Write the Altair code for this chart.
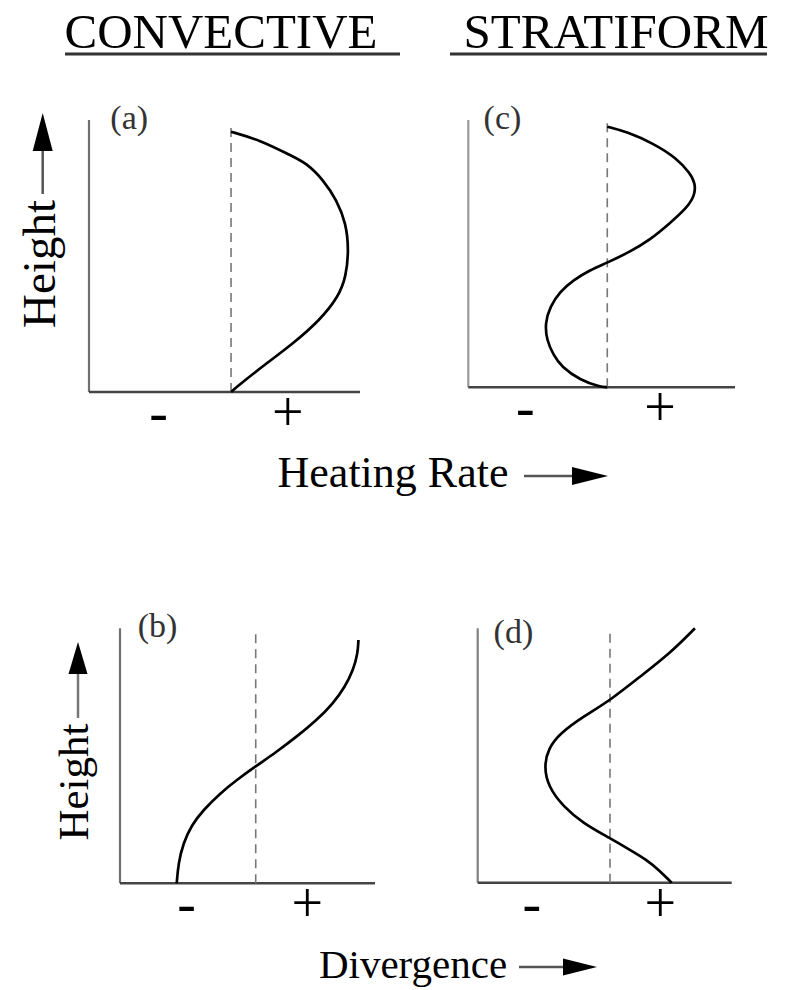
import altair as alt
import pandas as pd

SERIF = "Liberation Serif"

# ---------------- text content ----------------
column_titles = ["CONVECTIVE", "STRATIFORM"]
panel_labels = ["(a)", "(c)", "(b)", "(d)"]
x_titles = ["Heating Rate", "Divergence"]
y_title = "Height"
sign_labels = ["-", "+"]

# ---------------- curve values (x: rate, h: normalised height) ----------------
a_x = [0.0, 0.204, 0.415, 0.533, 0.650, 0.744, 0.810, 0.829, 0.810, 0.756, 0.627, 0.439, 0.251, 0.040, 0.0]
a_h = [0.957, 0.926, 0.871, 0.841, 0.779, 0.706, 0.620, 0.522, 0.424, 0.350, 0.265, 0.179, 0.106, 0.019, 0.0]

c_x = [0.0, 0.14, 0.33, 0.50, 0.595, 0.632, 0.632, 0.571, 0.451, 0.307, 0.163, 0.0, -0.124, -0.245,
       -0.340, -0.412, -0.448, -0.436, -0.388, -0.330, -0.196, -0.053, 0.0]
c_h = [0.975, 0.956, 0.913, 0.857, 0.801, 0.765, 0.720, 0.670, 0.614, 0.551, 0.507, 0.466, 0.439, 0.401,
       0.358, 0.302, 0.239, 0.177, 0.121, 0.077, 0.027, 0.002, 0.0]

b_x = [-0.582, -0.570, -0.534, -0.472, -0.386, -0.263, -0.140, -0.005, 0.155, 0.302, 0.450, 0.572,
       0.658, 0.719, 0.752, 0.757]
b_h = [0.0, 0.078, 0.157, 0.229, 0.287, 0.353, 0.405, 0.457, 0.516, 0.575, 0.640, 0.706,
       0.771, 0.836, 0.902, 0.954]

d_x = [0.642, 0.454, 0.227, 0.0, -0.202, -0.378, -0.466, -0.499, -0.466, -0.353, -0.202, 0.0,
       0.151, 0.277, 0.370, 0.466]
d_h = [1.0, 0.902, 0.810, 0.716, 0.653, 0.587, 0.528, 0.456, 0.377, 0.299, 0.233, 0.175,
       0.129, 0.090, 0.050, 0.0]

# sign label positions along each panel's rate axis
a_signs = [-0.51, 0.40]
c_signs = [-0.59, 0.38]
b_signs = [-0.51, 0.38]
d_signs = [-0.59, 0.38]


def panel(cx, ch, label, xmax, xr, yr, dash_top, signs, lab_x, lab_h, left_color):
    xs = alt.Scale(domain=[-1, xmax], range=xr, nice=False, zero=False)
    ys = alt.Scale(domain=[0, 1], range=yr, nice=False, zero=False)

    def X(f):
        return alt.X(f, type="quantitative", scale=xs, axis=None)

    def Y(f):
        return alt.Y(f, type="quantitative", scale=ys, axis=None)

    curve_df = pd.DataFrame({"x": cx, "h": ch, "i": list(range(len(cx)))})
    frame_df = pd.DataFrame({"x1": [-1], "x2": [xmax], "h1": [0], "h2": [1], "z": [0], "dt": [dash_top]})
    signs_df = pd.DataFrame({"s": sign_labels, "x": signs, "h": [0, 0]})
    lab_df = pd.DataFrame({"t": [label], "x": [lab_x], "h": [lab_h]})

    left = alt.Chart(frame_df).mark_rule(color=left_color, strokeWidth=2.2).encode(
        x=X("x1"), y=Y("h1"), y2="h2:Q")
    bottom = alt.Chart(frame_df).mark_rule(color="#444444", strokeWidth=2.6).encode(
        x=X("x1"), x2="x2:Q", y=Y("h1"))
    dash = alt.Chart(frame_df).mark_rule(color="#777777", strokeWidth=1.6, strokeDash=[9, 6]).encode(
        x=X("z"), y=Y("h1"), y2="dt:Q")
    curve = alt.Chart(curve_df).mark_line(color="black", strokeWidth=2.7, interpolate="basis").encode(
        x=X("x"), y=Y("h"), order="i:Q")
    sign_marks = alt.Chart(signs_df).mark_text(font=SERIF, fontSize=56, dy=39, baseline="alphabetic",
                                               align="center", color="black").encode(
        x=X("x"), y=Y("h"), text="s:N")
    lab = alt.Chart(lab_df).mark_text(font=SERIF, fontSize=34, align="left", baseline="alphabetic",
                                      color="#333333").encode(
        x=X("x"), y=Y("h"), text="t:N")
    return alt.layer(left, bottom, dash, curve, sign_marks, lab)


pa = panel(a_x, a_h, panel_labels[0], 0.908, [89, 360], [392, 120], 0.989, a_signs, -0.85, 0.968, "#707070")
pc = panel(c_x, c_h, panel_labels[1], 0.919, [468.3, 735], [387.3, 120], 0.994, c_signs, -0.89, 0.967, "#9a9a9a")
pb = panel(b_x, b_h, panel_labels[2], 0.879, [120, 375], [883.3, 628.3], 0.980, b_signs, -0.87, 0.967, "#707070")
pdd = panel(d_x, d_h, panel_labels[3], 0.920, [477.7, 731.7], [882.7, 628.3], 0.993, d_signs, -0.88, 0.943, "#808080")


def note(text, x, y, size, angle=0):
    return alt.Chart(pd.DataFrame({"t": [text]})).mark_text(
        font=SERIF, fontSize=size, angle=angle, align="center", baseline="alphabetic", color="black"
    ).encode(x=alt.value(x), y=alt.value(y), text="t:N")


def hline(x1, x2, y, w, color):
    return alt.Chart(pd.DataFrame({"k": [0]})).mark_rule(color=color, strokeWidth=w).encode(
        x=alt.value(x1), x2=alt.value(x2), y=alt.value(y))


def vline(x, y1, y2, w, color):
    return alt.Chart(pd.DataFrame({"k": [0]})).mark_rule(color=color, strokeWidth=w).encode(
        x=alt.value(x), y=alt.value(y1), y2=alt.value(y2))


def head(x, y, length, width, direction):
    w = width / length
    if direction == "right":
        path = f"M -1 {-w} L 1 0 L -1 {w} Z"
    else:
        path = f"M {-w} 1 L 0 -1 L {w} 1 Z"
    return alt.Chart(pd.DataFrame({"k": [0]})).mark_point(
        shape=path, size=length * length, filled=True, color="black", opacity=1, strokeWidth=0
    ).encode(x=alt.value(x), y=alt.value(y))


annotations = [
    note(column_titles[0], 221, 48, 49),
    note(column_titles[1], 616, 48, 49),
    hline(65, 400, 54, 3, "#333333"),
    hline(450, 767, 54, 3, "#333333"),
    note(x_titles[0], 393, 487, 44),
    hline(524, 576, 476, 2.5, "#555555"),
    head(590, 476, 36, 18, "right"),
    note(x_titles[1], 413, 978, 41),
    hline(519, 566, 967, 2.5, "#555555"),
    head(580, 967, 34, 17, "right"),
    note(y_title, 55, 264, 47, angle=270),
    vline(42.7, 150, 194, 2.5, "#555555"),
    head(42.7, 132, 38, 20, "up"),
    note(y_title, 88, 782, 43, angle=270),
    vline(78, 672, 718, 2.5, "#777777"),
    head(78, 658, 32, 19, "up"),
]

chart = alt.layer(pa, pc, pb, pdd, *annotations).resolve_scale(
    x="independent", y="independent"
).properties(
    width=788, height=990, padding=0, autosize=alt.AutoSizeParams(type="none"), background="white"
).configure_view(stroke=None)

chart.save("out.html", embed_options={"renderer": "svg", "actions": False})
